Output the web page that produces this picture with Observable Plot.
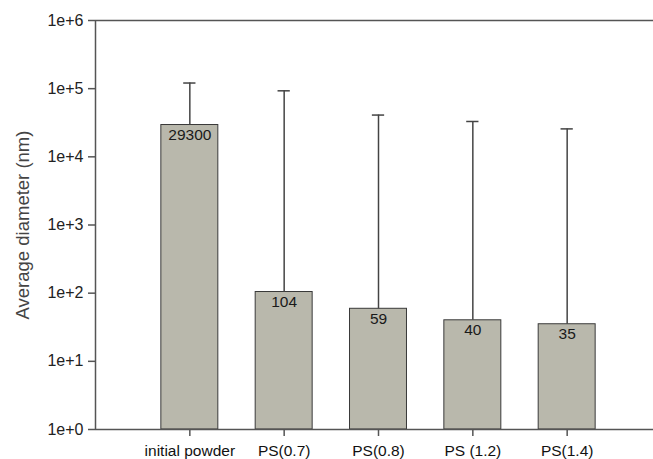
<!DOCTYPE html>
<html>
<head>
<meta charset="utf-8">
<script src="https://cdn.jsdelivr.net/npm/d3@7"></script>
<script src="https://cdn.jsdelivr.net/npm/@observablehq/plot@0.6"></script>
<style>
  html, body { margin: 0; padding: 0; background: #fff; }
  svg { font-family: "Liberation Sans", Arial, sans-serif; }
  g[aria-label="y-axis tick label"] text { font-size: 16px; fill: #222; }
  g[aria-label="x-axis tick label"] text { font-size: 15.5px; fill: #111; }
  g[aria-label="y-axis label"] text { font-size: 18.5px; fill: #444; }
  g[aria-label="text"] text { font-size: 15.5px; fill: #1a1a1a; }
</style>
</head>
<body>
<div id="chart"></div>
<script>
// Data
const categories = ["initial powder", "PS(0.7)", "PS(0.8)", "PS (1.2)", "PS(1.4)"];
const diameters = [29300, 104, 59, 40, 35];
const upperErrors = [121000, 93000, 41000, 33000, 25700];
const yTicks = [1, 10, 100, 1000, 10000, 100000, 1000000];
const yTickLabels = ["1e+0", "1e+1", "1e+2", "1e+3", "1e+4", "1e+5", "1e+6"];
const yLabel = "Average diameter (nm)";

const data = categories.map((c, k) => ({
  i: k + 1,
  category: c,
  value: diameters[k],
  upper: upperErrors[k]
}));

const barHalf = 0.302;
const capHalf = 0.065;
const axisColor = "#555";

const chart = Plot.plot({
  width: 653,
  height: 459,
  marginLeft: 95,
  marginRight: 0,
  marginTop: 20,
  marginBottom: 30,
  style: { fontFamily: "'Liberation Sans', Arial, sans-serif", background: "#fff" },
  x: { type: "linear", domain: [0, 6], range: [95, 661] },
  y: { type: "log", domain: [1, 1e6] },
  marks: [
    Plot.rect(data, {
      x1: d => d.i - barHalf,
      x2: d => d.i + barHalf,
      y1: 1,
      y2: "value",
      fill: "#b9b8ac",
      stroke: "#3a3a3a",
      strokeWidth: 1
    }),
    Plot.ruleX(data, { x: "i", y1: "value", y2: "upper", stroke: "#444", strokeWidth: 1.5 }),
    Plot.ruleY(data, { y: "upper", x1: d => d.i - capHalf, x2: d => d.i + capHalf, stroke: "#444", strokeWidth: 1.5 }),
    Plot.text(data, {
      x: "i",
      y: "value",
      text: d => String(d.value),
      lineAnchor: "top",
      dy: 4,
      fontSize: 15.5,
      fill: "#1a1a1a"
    }),
    Plot.ruleX([0], { stroke: axisColor, strokeWidth: 1.5 }),
    Plot.ruleY([1, 1e6], { stroke: axisColor, strokeWidth: 1.5 }),
    Plot.axisY({
      ticks: yTicks,
      tickFormat: (d) => yTickLabels[yTicks.indexOf(d)],
      tickSize: 7,
      tickPadding: 5,
      stroke: axisColor,
      strokeWidth: 1.5,
      fontSize: 16,
      color: "#222",
      label: null
    }),
    Plot.axisY({
      ticks: [],
      label: yLabel,
      labelAnchor: "center",
      labelArrow: "none",
      labelOffset: 80,
      fontSize: 18.5,
      color: "#444"
    }),
    Plot.axisX({
      ticks: data.map(d => d.i),
      tickFormat: (d) => categories[d - 1],
      tickSize: 7,
      tickPadding: 8,
      stroke: axisColor,
      strokeWidth: 1.5,
      fontSize: 15.5,
      color: "#111",
      label: null
    })
  ]
});
document.getElementById("chart").appendChild(chart);
</script>
</body>
</html>
